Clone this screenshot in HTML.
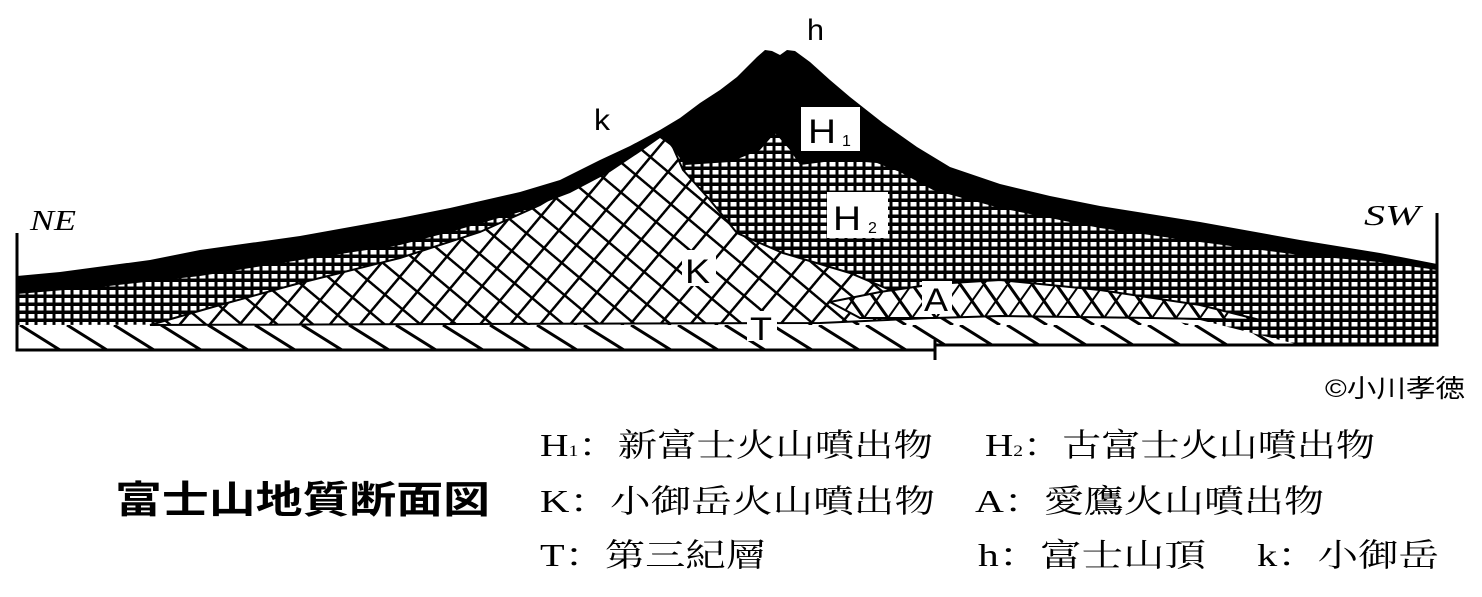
<!DOCTYPE html>
<html><head><meta charset="utf-8"><style>
html,body{margin:0;padding:0;background:#fff;}
svg{display:block;}
</style></head><body>
<svg width="1482" height="597" viewBox="0 0 1482 597" xmlns="http://www.w3.org/2000/svg">
<defs>
<pattern id="grid" width="9" height="8" patternUnits="userSpaceOnUse">
<rect width="9" height="8" fill="#000"/><rect x="1.5" y="2" width="6" height="4.5" fill="#fff"/>
</pattern>
<pattern id="cross" width="23" height="23" patternUnits="userSpaceOnUse" patternTransform="rotate(40)">
<rect width="23" height="23" fill="#fff"/>
<line x1="0" y1="0" x2="23" y2="0" stroke="#000" stroke-width="5"/>
<line x1="0" y1="0" x2="0" y2="23" stroke="#000" stroke-width="5"/>
</pattern>
<pattern id="hatch" width="47" height="25" patternUnits="userSpaceOnUse" x="17" y="325">
<rect width="47" height="25" fill="#fff"/>
<line x1="3" y1="0" x2="43" y2="25" stroke="#000" stroke-width="3"/>
</pattern>
<pattern id="xx" width="24" height="34" patternUnits="userSpaceOnUse" y="284">
<rect width="24" height="34" fill="#fff"/>
<line x1="0" y1="0" x2="24" y2="34" stroke="#000" stroke-width="3"/>
<line x1="24" y1="0" x2="0" y2="34" stroke="#000" stroke-width="2"/>
</pattern>
</defs>

<polygon points="17,325 820,323 935,318 1000,316 1150,318 1300,340 1437,345 935,345 935,350 17,350" fill="url(#hatch)"/>
<polygon points="17,290 200,265 400,235 560,190 660,132 780,125 935,180 1100,225 1300,252 1437,266 1437,345 1300,345 1200,320 1000,314 935,318 820,323 17,325" fill="url(#grid)"/>
<polygon points="150,325 220,305 300,283 400,258 480,232 540,205 590,175 630,150 660,135 672,145 683,170 710,200 737,233 783,253 850,273 890,290 920,302 930,318 820,323" fill="url(#cross)" stroke="#000" stroke-width="2"/>
<polygon points="830,302 880,292 935,284 1000,280 1100,290 1200,305 1260,320 1150,318 1000,316 935,318 860,318" fill="url(#xx)" stroke="#000" stroke-width="2"/>
<polygon fill="#000" points="17,276 60,272 150,260 200,250 300,236 400,218 450,208 520,192 560,180 600,160 630,146 660,130 680,118 700,103 720,90 737,77 750,64 757,57 765,50 772,51 780,55 787,50 795,51 810,62 830,80 850,97 883,123 917,147 950,167 1000,184 1050,196 1100,206 1200,222 1300,240 1380,253 1437,264 1437,270 1380,262 1300,255 1200,242 1100,228 1000,208 933,190 900,172 877,163 840,160 800,165 790,150 775,133 760,150 730,162 685,165 670,145 660,138 640,152 610,172 570,193 520,212 450,232 400,245 300,260 200,276 100,287 17,294"/>
<g stroke="#000" stroke-width="3" fill="none">
<polyline points="17,233 17,350 935,350"/>
<line x1="935" y1="340" x2="935" y2="360"/>
<polyline points="935,345 1437,345 1437,213"/>
</g>
<rect x="801" y="107" width="59" height="44" fill="#fff"/>
<rect x="827" y="192" width="61" height="46" fill="#fff"/>
<g font-family="Liberation Sans, sans-serif" fill="#000">
<text x="808" y="143" font-size="34" textLength="28" lengthAdjust="spacingAndGlyphs">H</text>
<text x="842" y="146" font-size="16">1</text>
<text x="833" y="230" font-size="34" textLength="28" lengthAdjust="spacingAndGlyphs">H</text>
<text x="868" y="233" font-size="16">2</text>
<rect x="682" y="250" width="34" height="36" fill="#fff"/>
<text x="685" y="283" font-size="34" textLength="25" lengthAdjust="spacingAndGlyphs">K</text>
<rect x="747" y="311" width="30" height="30" fill="#fff"/>
<text x="750" y="340" font-size="32" textLength="22" lengthAdjust="spacingAndGlyphs">T</text>
<rect x="922" y="281" width="30" height="33" fill="#fff"/>
<text x="924" y="311" font-size="32" textLength="24" lengthAdjust="spacingAndGlyphs">A</text>
<text x="594" y="130" font-size="30" textLength="16" lengthAdjust="spacingAndGlyphs">k</text>
<text x="807" y="40" font-size="30" textLength="17" lengthAdjust="spacingAndGlyphs">h</text>
</g>
<g font-family="Liberation Serif, serif" font-style="italic" font-size="28">
<text x="30" y="230" textLength="46" lengthAdjust="spacingAndGlyphs">NE</text>
<text x="1364" y="225" textLength="56" lengthAdjust="spacingAndGlyphs">SW</text>
</g>
<g font-family="Liberation Serif, 'Noto Serif CJK SC', 'Noto Sans CJK JP', serif" font-size="32" fill="#000">
<text x="1325" y="397" font-size="25" font-family="Liberation Sans, 'Noto Sans CJK JP', sans-serif" textLength="140" lengthAdjust="spacingAndGlyphs">©小川孝徳</text>
<text x="540" y="456" textLength="393" lengthAdjust="spacingAndGlyphs">H<tspan font-size="16">1</tspan>：新富士火山噴出物</text>
<text x="985" y="456" textLength="390" lengthAdjust="spacingAndGlyphs">H<tspan font-size="16">2</tspan>：古富士火山噴出物</text>
<text x="540" y="512" textLength="395" lengthAdjust="spacingAndGlyphs">K：小御岳火山噴出物</text>
<text x="975" y="512" textLength="349" lengthAdjust="spacingAndGlyphs">A：愛鷹火山噴出物</text>
<text x="540" y="566" textLength="226" lengthAdjust="spacingAndGlyphs">T：第三紀層</text>
<text x="978" y="566" textLength="228" lengthAdjust="spacingAndGlyphs">h：富士山頂</text>
<text x="1257" y="566" textLength="182" lengthAdjust="spacingAndGlyphs">k：小御岳</text>
<text x="115" y="513" font-size="38" font-weight="bold" font-family="Liberation Sans, 'Noto Sans CJK JP', sans-serif" textLength="375" lengthAdjust="spacingAndGlyphs">富士山地質断面図</text>
</g>
</svg>
</body></html>
